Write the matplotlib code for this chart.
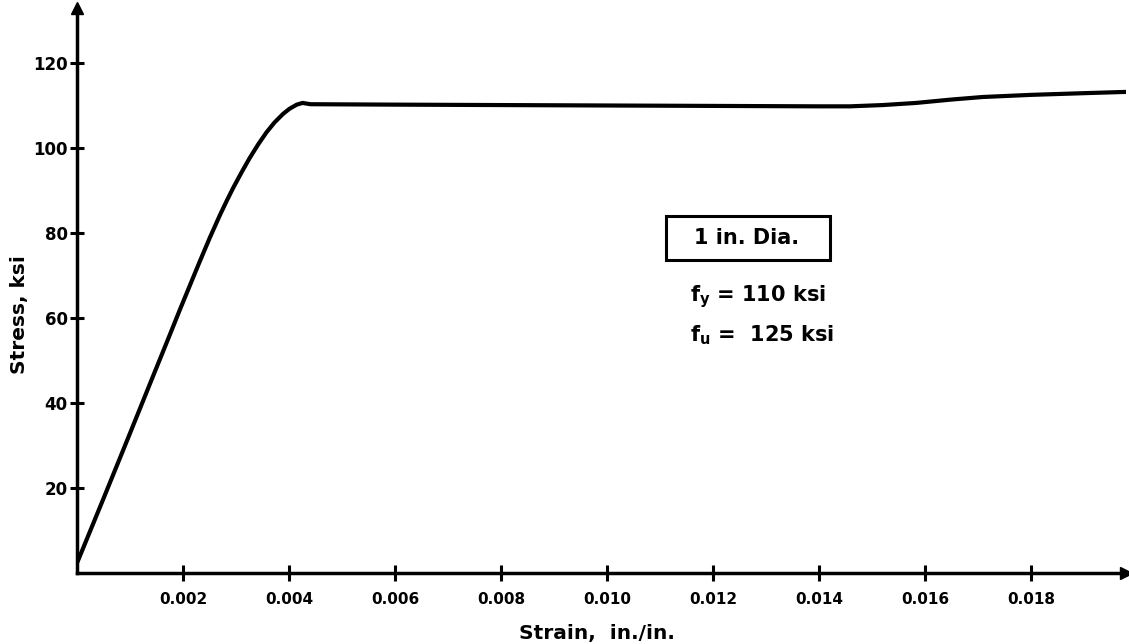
import numpy as np
import matplotlib.pyplot as plt
from matplotlib.patches import Rectangle

# stress-strain curve
strain = [0.0, 0.00049, 0.00093, 0.00137, 0.00175, 0.00193, 0.00231, 0.00250,
          0.00269, 0.00282, 0.00294, 0.00310, 0.00325, 0.00341, 0.00357, 0.00372,
          0.00388, 0.00400, 0.00414, 0.00425, 0.00440, 0.00600, 0.00800, 0.01000,
          0.01200, 0.01400, 0.01458, 0.01520, 0.01583, 0.01650, 0.01709, 0.01800,
          0.01900, 0.01980]
stress = [2.6, 17.5, 31.0, 44.6, 56.3, 61.9, 73.4, 79.0,
          84.3, 87.7, 90.7, 94.4, 97.7, 100.9, 103.8, 106.1,
          108.1, 109.3, 110.3, 110.7, 110.4, 110.3, 110.2, 110.1,
          110.0, 109.9, 109.9, 110.2, 110.7, 111.5, 112.1, 112.6,
          113.0, 113.3]

x_ticks = [0.002, 0.004, 0.006, 0.008, 0.010, 0.012, 0.014, 0.016, 0.018]
x_labels = ['0.002', '0.004', '0.006', '0.008', '0.010', '0.012', '0.014', '0.016', '0.018']
y_ticks = [20, 40, 60, 80, 100, 120]
y_labels = ['20', '40', '60', '80', '100', '120']

plt.rcParams['font.family'] = ['DejaVu Sans']
plt.rcParams['mathtext.default'] = 'bf'

fig = plt.figure(figsize=(11.29, 6.44), dpi=100)
ax = fig.add_axes([0.0686, 0.1102, 0.929, 0.877])

ax.plot(strain, stress, color='black', lw=3, solid_capstyle='round', solid_joinstyle='round')

ax.set_xlim(0, 0.0198)
ax.set_ylim(0, 133)

for s in ['top', 'right']:
    ax.spines[s].set_visible(False)
for s in ['left', 'bottom']:
    ax.spines[s].set_linewidth(2.5)

# arrow heads at the axis ends
ax.plot(1, 0, '>', color='black', ms=9, transform=ax.transAxes, clip_on=False)
ax.plot(0, 1, '^', color='black', ms=9, transform=ax.transAxes, clip_on=False)

ax.set_xticks(x_ticks)
ax.set_xticklabels(x_labels, fontweight='bold', fontsize=11)
ax.set_yticks(y_ticks)
ax.set_yticklabels(y_labels, fontweight='bold', fontsize=12)
ax.tick_params(axis='both', direction='inout', length=12, width=2.2, pad=8)
ax.tick_params(axis='y', length=10, pad=2)

# axis titles placed in figure coords so they stay inside the canvas
fig.text(597 / 1129, 1 - 633 / 644, 'Strain,  in./in.', fontweight='bold', fontsize=14.5,
         ha='center', va='center')
fig.text(20 / 1129, 1 - 315 / 644, 'Stress, ksi', fontweight='bold', fontsize=14.5,
         ha='center', va='center', rotation=90)

# boxed note
ax.add_patch(Rectangle((0.01112, 73.6), 0.00308, 10.4, fill=False, ec='black', lw=2.2))
ax.text(0.01264, 78.8, '1 in. Dia.', fontsize=15, fontweight='bold', ha='center', va='center')
ax.text(0.01156, 65.2, r'f$_y$ = 110 ksi', fontsize=15, fontweight='bold', ha='left', va='center')
ax.text(0.01156, 56.0, r'f$_u$ =  125 ksi', fontsize=15, fontweight='bold', ha='left', va='center')

fig.savefig('out.png', dpi=100)
